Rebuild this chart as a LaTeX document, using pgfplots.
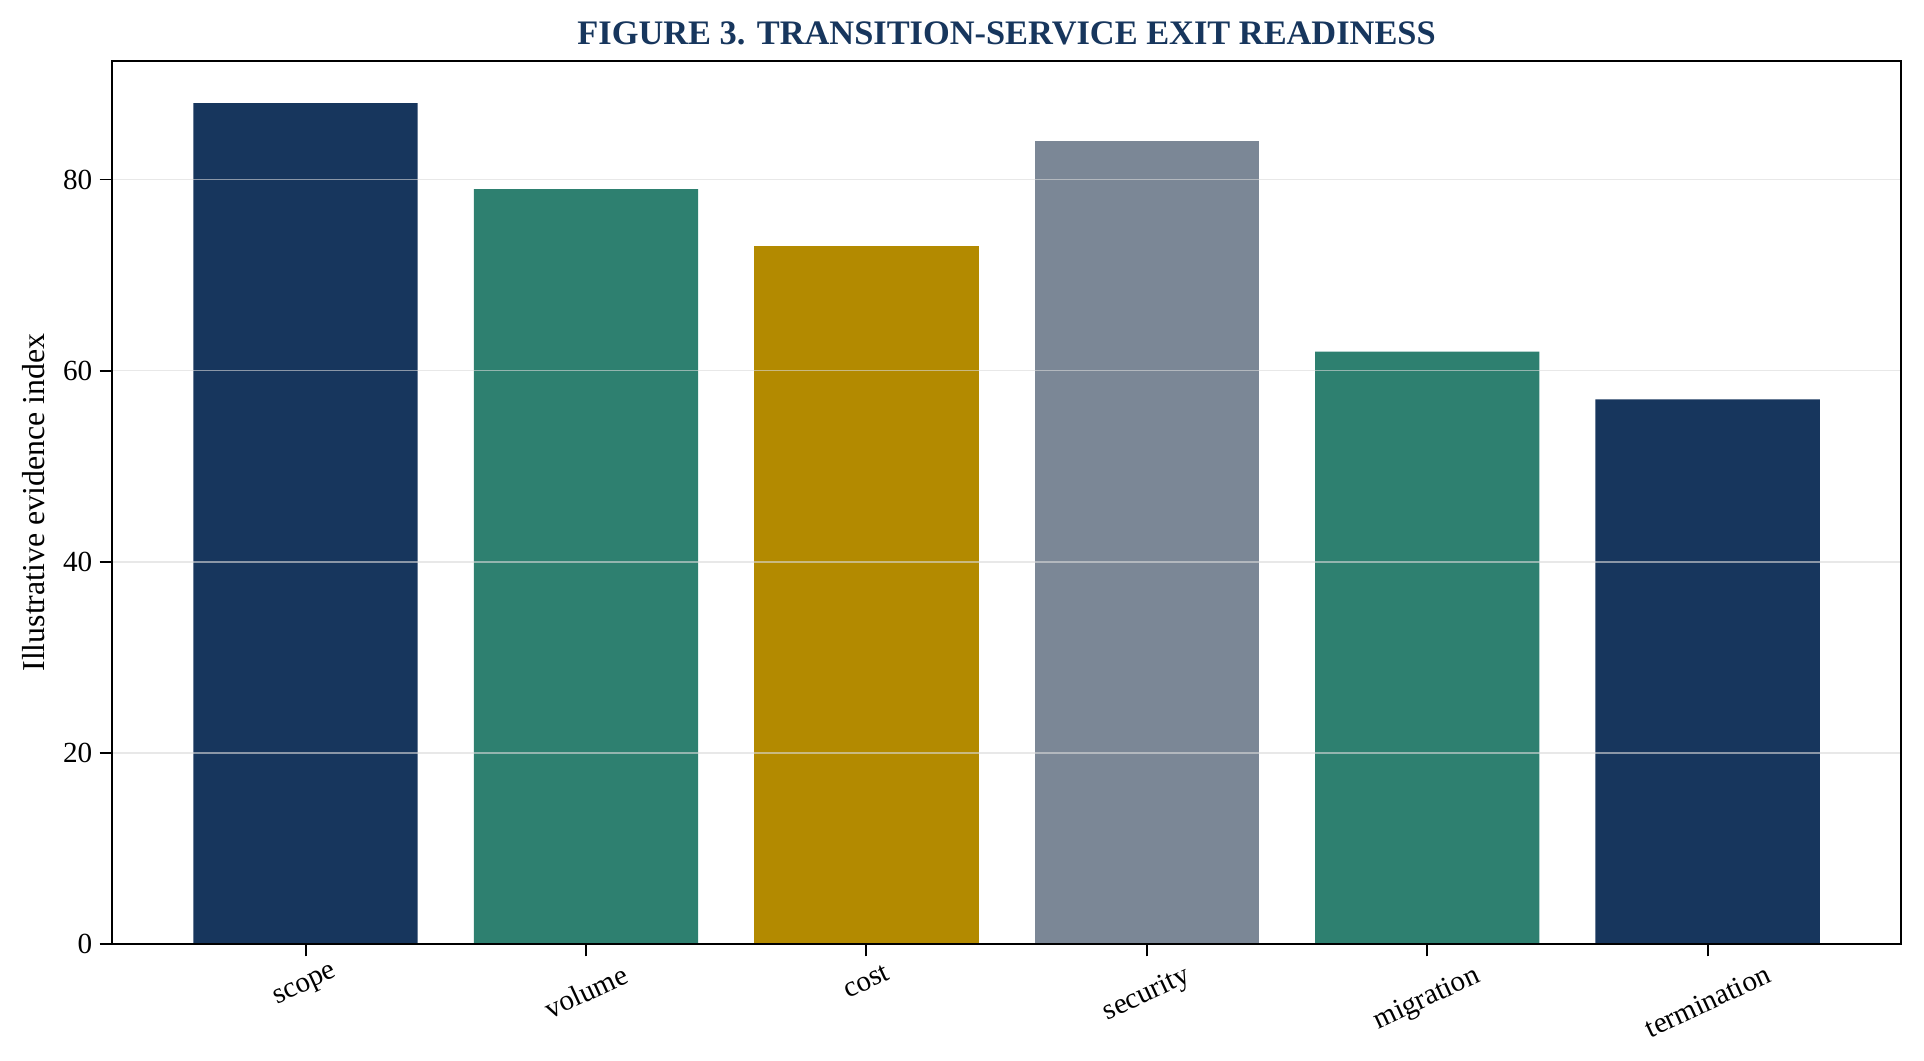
\documentclass[border=0pt]{standalone}
\usepackage{pgfplots}
\usepackage{graphicx}
\usepackage{fontspec}
\setmainfont{Liberation Serif}
\pgfplotsset{compat=1.18}

\definecolor{navy}{HTML}{17365D}
\definecolor{teal}{HTML}{2E8070}
\definecolor{gold}{HTML}{B38A00}
\definecolor{slate}{HTML}{7B8796}

\begin{document}
\begin{tikzpicture}
\begin{axis}[
    name=main,
    scale only axis,
    width=858.7pt, height=423.8pt,
    xmin=-0.69, xmax=5.69,
    ymin=0, ymax=92.4,
    xtick={0,1,2,3,4,5},
    xticklabels={\rotatebox{25}{scope},\rotatebox{25}{volume},\rotatebox{25}{cost},
                 \rotatebox{25}{security},\rotatebox{25}{migration},\rotatebox{25}{termination}},
    xticklabel style={anchor=north, font=\fontsize{14}{16}\selectfont},
    ytick={0,20,40,60,80},
    yticklabel style={font=\fontsize{14}{16}\selectfont},
    /pgf/number format/assume math mode=true,
    tick align=outside,
    major tick length=6pt,
    tick style={black, line width=0.9pt},
    axis line style={black, line width=0.9pt},
    ymajorgrids,
    grid style={gray!30, line width=0.8pt, opacity=0.6},
    axis on top,
    xtick pos=bottom, ytick pos=left,
    ylabel={Illustrative evidence index},
    ylabel style={font=\fontsize{15.3}{17}\selectfont, yshift=2pt},
    title={\textbf{FIGURE 3. TRANSITION-SERVICE EXIT READINESS}},
    title style={font=\fontsize{16.5}{18}\selectfont, text=navy, yshift=-2pt},
    ybar, bar width=0.8, bar shift=0pt,
]
\addplot[fill=navy, draw=none] coordinates {(0,88) (5,57)};
\addplot[fill=teal, draw=none] coordinates {(1,79) (4,62)};
\addplot[fill=gold, draw=none] coordinates {(2,73)};
\addplot[fill=slate, draw=none] coordinates {(3,84)};
\end{axis}
\pgfresetboundingbox
\path[use as bounding box] ([shift={(-53.8pt,-55.7pt)}]main.south west) rectangle ([shift={(11pt,29.3pt)}]main.north east);
\end{tikzpicture}
\end{document}
